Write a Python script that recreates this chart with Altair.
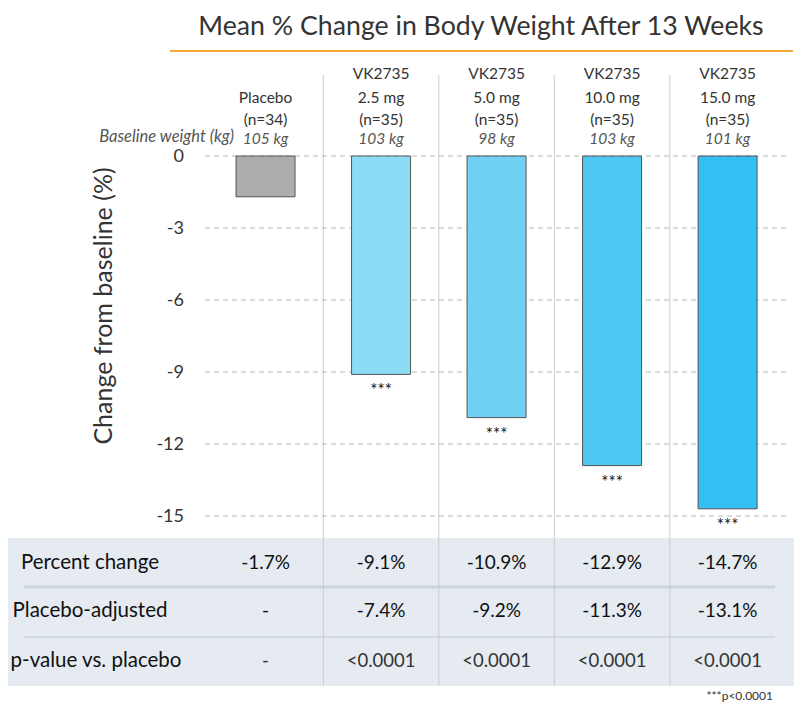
import altair as alt
import pandas as pd

# ---------------- data ----------------
drug_line = ["", "VK2735", "VK2735", "VK2735", "VK2735"]
dose_line = ["Placebo", "2.5 mg", "5.0 mg", "10.0 mg", "15.0 mg"]
n_line = ["(n=34)", "(n=35)", "(n=35)", "(n=35)", "(n=35)"]
baseline_kg = [105, 103, 98, 103, 101]
pct_change = [-1.7, -9.1, -10.9, -12.9, -14.7]
placebo_adj = [None, -7.4, -9.2, -11.3, -13.1]
p_values = ["-", "<0.0001", "<0.0001", "<0.0001", "<0.0001"]
stars = ["", "***", "***", "***", "***"]
row_labels = ["Percent change", "Placebo-adjusted", "p-value vs. placebo"]
y_ticks = [0, -3, -6, -9, -12, -15]
bar_colors = ["#adadad", "#8ddcf6", "#70d1f5", "#4fc7f3", "#33bff1"]

FONT = "Lato"
W, H = 786, 694

groups = [f"{a} {b}".strip() for a, b in zip(drug_line, dose_line)]
df = pd.DataFrame({
    "idx": list(range(len(groups))),
    "group": groups,
    "drug": drug_line,
    "dose": dose_line,
    "n": n_line,
    "kg": [f"{v} kg" for v in baseline_kg],
    "pct": pct_change,
    "pct_txt": [f"{v:.1f}%" for v in pct_change],
    "adj_txt": ["-" if v is None else f"{v:.1f}%" for v in placebo_adj],
    "p": p_values,
    "stars": stars,
})
sep_df = pd.DataFrame({"sep": [i + 0.5 for i in range(len(groups) - 1)]})
tick_df = pd.DataFrame({"t": y_ticks, "t_lbl": [str(t) for t in y_ticks]})
one = pd.DataFrame({"a": [0]})
rows_df = pd.DataFrame({"label": row_labels, "r": list(range(len(row_labels)))})

xs = alt.Scale(domain=[-2.1863, 4.5316], nice=False, zero=False)
ys = alt.Scale(domain=[-22.75, 148 / 24], nice=False, zero=False)

X = lambda f: alt.X(f, type="quantitative", scale=xs, axis=None)
Y = lambda f: alt.Y(f, type="quantitative", scale=ys, axis=None)

base = alt.Chart(df)

# table background and lines
bg = alt.Chart(one).mark_rect(color="#e5ebf1").encode(
    x=alt.value(0), x2=alt.value(W), y=alt.value(530), y2=alt.value(678))
sep1 = alt.Chart(one).mark_rule(color="#ccd5de", strokeWidth=3).encode(
    x=alt.value(16), x2=alt.value(767), y=alt.value(579))
sep2 = alt.Chart(one).mark_rule(color="#bcc5ce", strokeWidth=1).encode(
    x=alt.value(16), x2=alt.value(767), y=alt.value(629))

vlines = alt.Chart(sep_df).mark_rule(color="#c9ccd0", strokeWidth=1).encode(
    x=X("sep"), y=alt.value(67), y2=alt.value(678))

grid = alt.Chart(tick_df).mark_rule(color="#b5b5b5", strokeDash=[5, 4], strokeWidth=1).encode(
    y=Y("t"), x=alt.value(197), x2=alt.value(782))
tick_lbl = alt.Chart(tick_df).mark_text(align="right", baseline="middle", font=FONT,
                                         fontSize=18, color="#333333", dy=1).encode(
    y=Y("t"), x=alt.value(176), text="t_lbl:N")

bars = base.mark_bar(width=59, stroke="#555555", strokeWidth=1).encode(
    x=X("idx"), y=Y("pct"), y2=alt.datum(0),
    color=alt.Color("group:N", scale=alt.Scale(domain=groups, range=bar_colors), legend=None))
star_txt = base.mark_text(baseline="middle", dy=17, font=FONT, fontSize=17, color="#111111").encode(
    x=X("idx"), y=Y("pct"), text="stars:N")

hdr_common = dict(align="center", baseline="middle", font=FONT, fontSize=15.5, color="#333333")
h1 = base.mark_text(**hdr_common).encode(x=X("idx"), y=alt.value(66), text="drug:N")
h2 = base.mark_text(**hdr_common).encode(x=X("idx"), y=alt.value(90), text="dose:N")
h3 = base.mark_text(**hdr_common).encode(x=X("idx"), y=alt.value(112), text="n:N")
h4 = base.mark_text(align="center", baseline="middle", font=FONT, fontSize=15.5,
                    fontStyle="italic", color="#555555").encode(
    x=X("idx"), y=alt.value(131), text="kg:N")
bw = alt.Chart(one).mark_text(align="right", baseline="middle", font=FONT, fontSize=16.5,
                              fontStyle="italic", color="#555555",
                              text="Baseline weight (kg)").encode(
    x=alt.value(226), y=alt.value(129))

title = alt.Chart(one).mark_text(align="center", baseline="middle", font=FONT, fontSize=26.7,
                                 color="#333333",
                                 text="Mean % Change in Body Weight After 13 Weeks").encode(
    x=alt.value(473), y=alt.value(19))
orange = alt.Chart(one).mark_rule(color="#f5a733", strokeWidth=2).encode(
    x=alt.value(162), x2=alt.value(785), y=alt.value(43))

ytitle = alt.Chart(one).mark_text(align="center", baseline="middle", font=FONT, fontSize=25,
                                  angle=270, color="#333333",
                                  text="Change from baseline (%)").encode(
    x=alt.value(96), y=alt.value(298))

row_y = [555, 603, 653]
row_x = [82, 82, 88]
row_lbl = [
    alt.Chart(rows_df).transform_filter(alt.datum.r == i).mark_text(
        align="center", baseline="middle", font=FONT, fontSize=20.5, color="#111111").encode(
        x=alt.value(row_x[i]), y=alt.value(row_y[i]), text="label:N")
    for i in range(len(row_labels))
]
cell_common = dict(align="center", baseline="middle", font=FONT, fontSize=19, color="#111111")
c1 = base.mark_text(**cell_common).encode(x=X("idx"), y=alt.value(row_y[0]), text="pct_txt:N")
c2 = base.mark_text(**cell_common).encode(x=X("idx"), y=alt.value(row_y[1]), text="adj_txt:N")
c3 = base.mark_text(align="center", baseline="middle", font=FONT, fontSize=18.5,
                    color="#333333").encode(x=X("idx"), y=alt.value(row_y[2]), text="p:N")

foot = alt.Chart(one).mark_text(align="right", baseline="middle", font=FONT, fontSize=12,
                                color="#333333", text="***p<0.0001").encode(
    x=alt.value(765), y=alt.value(688))

chart = alt.layer(
    bg, sep1, sep2, vlines, grid, tick_lbl, bars, star_txt, h1, h2, h3, h4, bw,
    title, orange, ytitle, *row_lbl, c1, c2, c3, foot
).properties(width=W, height=H, padding=0, autosize="none").configure_view(stroke=None)

chart.save("out.html", embed_options={"renderer": "svg", "actions": False})
